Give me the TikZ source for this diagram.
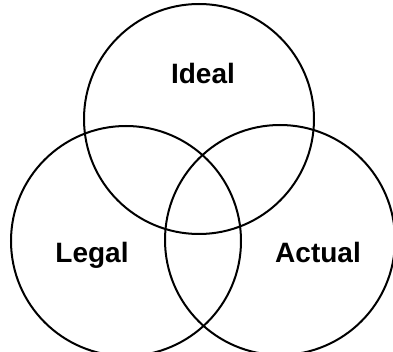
\documentclass[tikz,border=0pt]{standalone}
\usepackage{fontspec}
\setmainfont{Liberation Sans}
\usetikzlibrary{positioning}

\begin{document}
\begin{tikzpicture}[
    x=1pt, y=-1pt,
    setStyle/.style={
        circle, draw=black, line width=2pt, inner sep=0pt, minimum size=230pt
    },
    labelStyle/.style={
        anchor=base, inner sep=0pt, font=\fontsize{28}{30}\selectfont\bfseries
    }
]
    \useasboundingbox (0,0) rectangle (393,352);

    % Sets
    \node[setStyle] (ideal)  at (199,119) {};
    \node[setStyle] (legal)  at (126,241) {};
    \node[setStyle] (actual) at (280,240) {};

    % Labels
    \node[labelStyle] (idealLabel)  at (203,84)  {Ideal};
    \node[labelStyle] (legalLabel)  at (92,263)  {Legal};
    \node[labelStyle] (actualLabel) at (318,263) {Actual};
\end{tikzpicture}
\end{document}
